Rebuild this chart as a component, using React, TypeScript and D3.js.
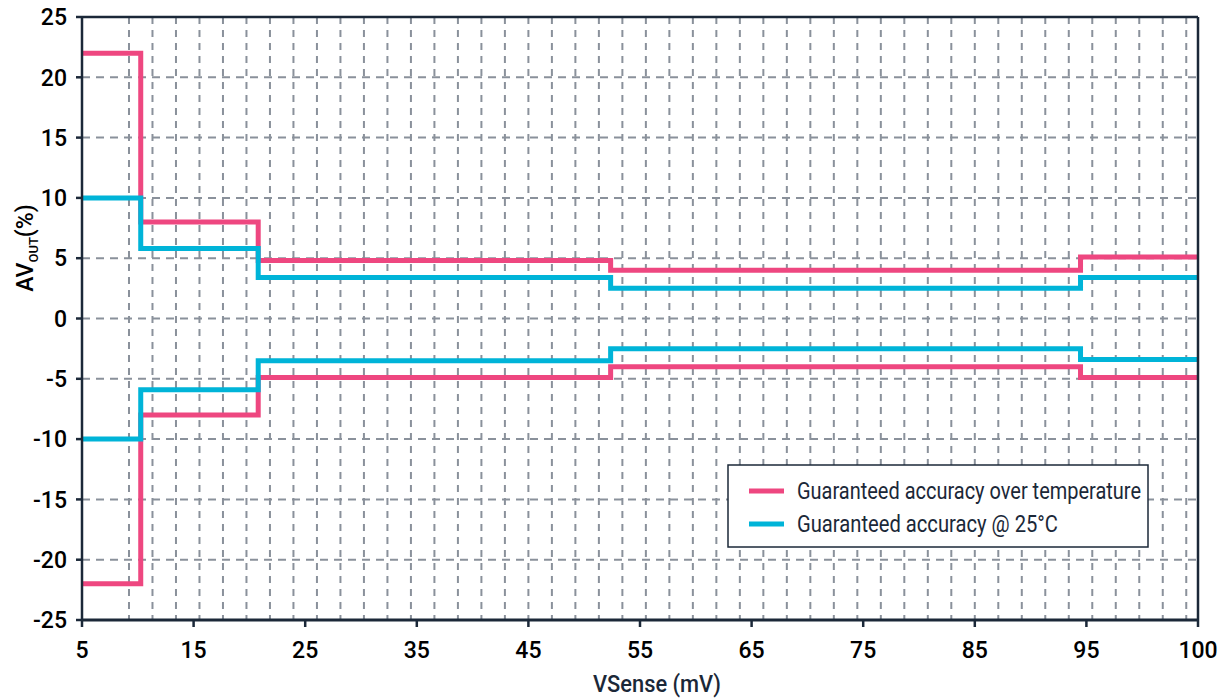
import React from "react";
import * as d3 from "d3";

// ---- data ----
const stepX = [5, 10, 20, 50, 90, 100];
const tempUpper = [22, 8, 4.8, 4, 5.1];
const tempLower = [-22, -8, -4.9, -4, -4.9];
const roomUpper = [10, 5.8, 3.4, 2.5, 3.4];
const roomLower = [-10, -5.9, -3.5, -2.5, -3.4];
const xTickLabels = ["5", "15", "25", "35", "45", "55", "65", "75", "85", "95", "100"];
const yTicks = [25, 20, 15, 10, 5, 0, -5, -10, -15, -20, -25];
const gridXValues = d3.range(9, 100, 2);
const seriesNames = ["Guaranteed accuracy over temperature", "Guaranteed accuracy @ 25°C"];
const seriesColors = ["#ee4780", "#00b4d8"];

const W = 1222;
const H = 698;
const left = 82;
const right = 1198;
const top = 17;
const bottom = 620;
const FONT = "Roboto, 'Noto Sans', sans-serif";
const axisColor = "#1b2838";
const gridColor = "#8a919b";
const legendTextWidths = [344, 261];

export default function App() {
  const x = d3.scaleLinear().domain([5, 100]).range([left, right]);
  const y = d3.scaleLinear().domain([-25, 25]).range([bottom, top]);
  const xTick = d3.scalePoint<string>().domain(xTickLabels).range([left, right]);

  const line = d3
    .line<[number, number]>()
    .x((d) => x(d[0]))
    .y((d) => y(d[1]))
    .curve(d3.curveStepAfter);

  const toPts = (vals: number[]): [number, number][] => {
    const pts: [number, number][] = vals.map((v, i) => [stepX[i], v]);
    pts.push([stepX[stepX.length - 1], vals[vals.length - 1]]);
    return pts;
  };

  const series = [
    { vals: tempUpper, color: seriesColors[0] },
    { vals: tempLower, color: seriesColors[0] },
    { vals: roomUpper, color: seriesColors[1] },
    { vals: roomLower, color: seriesColors[1] },
  ];

  const legX = 728;
  const legY = 465;

  return (
    <svg
      width={W}
      height={H}
      style={{ position: "absolute", left: 0, top: 0, background: "#fff" }}
      fontFamily={FONT}
    >
      {/* grid */}
      {gridXValues.map((g) => (
        <line
          key={"gx" + g}
          x1={x(g)}
          x2={x(g)}
          y1={top}
          y2={bottom}
          stroke={gridColor}
          strokeWidth={2}
          strokeDasharray="7,6"
        />
      ))}
      {yTicks
        .filter((t) => t !== 25 && t !== -25)
        .map((t) => (
          <line
            key={"gy" + t}
            x1={left}
            x2={right}
            y1={y(t)}
            y2={y(t)}
            stroke={gridColor}
            strokeWidth={2}
            strokeDasharray="8,6"
          />
        ))}

      {/* series */}
      {series.map((s, i) => (
        <path
          key={"s" + i}
          d={line(toPts(s.vals)) || ""}
          fill="none"
          stroke={s.color}
          strokeWidth={5}
          strokeLinejoin="miter"
        />
      ))}

      {/* frame */}
      <line x1={left} x2={right} y1={top} y2={top} stroke={axisColor} strokeWidth={2.5} />
      <line x1={right} x2={right} y1={top} y2={bottom} stroke={axisColor} strokeWidth={2.5} />
      <line x1={left} x2={left} y1={top - 1} y2={bottom + 1} stroke={axisColor} strokeWidth={2.5} />
      <line x1={left - 1} x2={right + 1} y1={bottom} y2={bottom} stroke={axisColor} strokeWidth={3} />

      {/* y axis */}
      {yTicks.map((t) => (
        <g key={"yt" + t}>
          <line x1={left - 6} x2={left} y1={y(t)} y2={y(t)} stroke={axisColor} strokeWidth={2.5} />
          <text
            x={left - 15}
            y={y(t)}
            dy="0.36em"
            textAnchor="end"
            fontSize={23}
            fontWeight={500}
            fill="#000"
          >
            {t}
          </text>
        </g>
      ))}

      {/* x axis */}
      {xTickLabels.map((l) => (
        <g key={"xt" + l}>
          <line
            x1={xTick(l)}
            x2={xTick(l)}
            y1={bottom}
            y2={bottom + 7}
            stroke={axisColor}
            strokeWidth={2.5}
          />
          <text
            x={xTick(l)}
            y={658}
            textAnchor="middle"
            fontSize={23}
            fontWeight={500}
            fill="#000"
          >
            {l}
          </text>
        </g>
      ))}

      {/* axis titles */}
      <text
        x={657}
        y={692}
        textAnchor="middle"
        fontSize={24}
        fontWeight={500}
        fill={axisColor}
        textLength={128}
        lengthAdjust="spacingAndGlyphs"
      >
        VSense (mV)
      </text>
      <text
        transform="translate(33,248) rotate(-90)"
        textAnchor="middle"
        fontSize={23}
        fontWeight={500}
        fill="#000"
      >
        AV
        <tspan fontSize={13} dy={5}>
          OUT
        </tspan>
        <tspan dy={-5}>(%)</tspan>
      </text>

      {/* legend */}
      <rect
        x={legX}
        y={legY}
        width={420}
        height={82}
        fill="#fff"
        stroke={axisColor}
        strokeWidth={1.5}
      />
      {seriesNames.map((n, i) => (
        <g key={"lg" + i}>
          <line
            x1={749}
            x2={784}
            y1={491 + i * 33}
            y2={491 + i * 33}
            stroke={seriesColors[i]}
            strokeWidth={5}
          />
          <text
            x={797}
            y={491 + i * 33}
            dy="0.36em"
            fontSize={23}
            fill={axisColor}
            textLength={legendTextWidths[i]}
            lengthAdjust="spacingAndGlyphs"
          >
            {n}
          </text>
        </g>
      ))}
    </svg>
  );
}
